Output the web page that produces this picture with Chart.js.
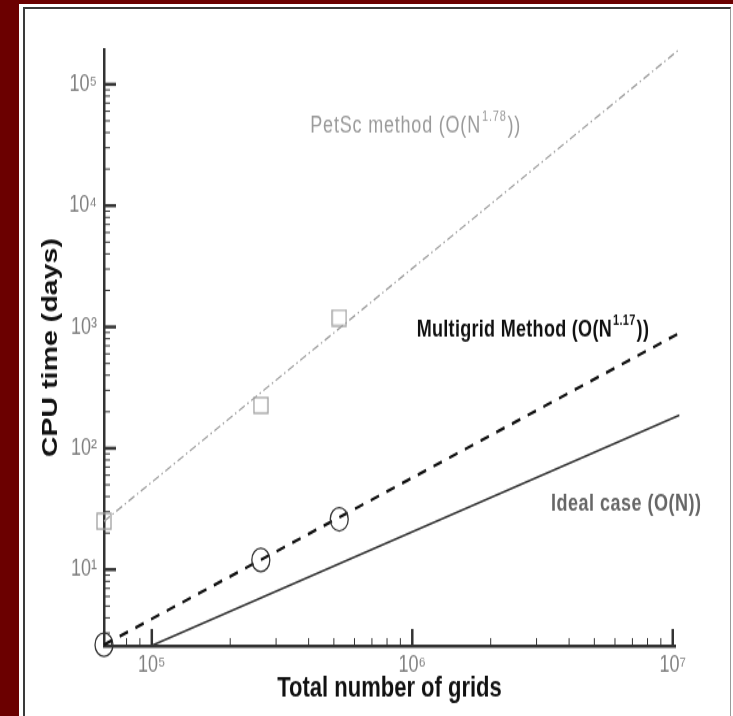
<!DOCTYPE html>
<html>
<head>
<meta charset="utf-8">
<script src="https://cdn.jsdelivr.net/npm/chart.js@4.4.0/dist/chart.umd.min.js"></script>
<style>
  html, body { margin: 0; padding: 0; width: 733px; height: 716px; overflow: hidden; background: #6b0000; }
  #panel { position: absolute; left: 19px; top: 4px; width: 714px; height: 712px; background: #fff; }
  #frame { position: absolute; left: 23px; top: 7px; width: 705px; height: 720px;
           border-top: 2px solid #3a3a3a; border-left: 2px solid #3a3a3a; border-right: 1px solid #9a9a9a; }
  /* the source picture is stretched vertically, so the chart is drawn short and scaled up */
  #wrap { position: absolute; left: 0; top: 0; width: 733px; height: 551px;
          transform-origin: 0 0; transform: scaleY(1.2995); }
</style>
</head>
<body>
<div id="panel"></div>
<div id="frame"></div>
<div id="wrap"><canvas id="cpuChart" width="733" height="551"></canvas></div>
<script>
// measured runs (grid size -> days)
const gridSizes = [65536, 262144, 524288];
const multigridDays = [2.4, 12, 26];
const petscDays = [25, 226, 1190];

// fitted trend lines (end points)
const idealX = [1e5, 1.06e7];
const idealDays = [2.36, 187];
const multigridFitX = [65536, 1.06e7];
const multigridFitDays = [2.4, 890];
const petscFitX = [65536, 1.06e7];
const petscFitDays = [25, 1.94e5];

// axes
const xRange = [65536, 1.02e7];
const yRange = [2.35, 1.94e5];
const xDecades = [1e4, 1e5, 1e6, 1e7];
const yDecades = [1, 1e1, 1e2, 1e3, 1e4, 1e5];
const xTickLabels = { 5: '10⁵', 6: '10⁶', 7: '10⁷' };
const yTickLabels = { 1: '10¹', 2: '10²', 3: '10³', 4: '10⁴', 5: '10⁵' };

// curve labels
const labelTexts = ['PetSc method (O(N', 'Multigrid Method (O(N', 'Ideal case (O(N))'];
const labelExponents = ['1.78', '1.17', ''];
const labelTails = ['))', '))', ''];
const labelAtX = [4.06e5, 1.04e6, 3.41e6];
const labelAtY = [4.5e4, 945, 34.4];

const family = '"Liberation Sans", Arial, Helvetica, sans-serif';
const labelStyles = [
  { color: '#9a9a9a', weight: 'normal', size: 18, spacing: '0.8px' },
  { color: '#111111', weight: 'bold', size: 18, spacing: '0.3px' },
  { color: '#666666', weight: 'bold', size: 18, spacing: '0.5px' }
];

Chart.defaults.font.family = family;

function isDecade(v) {
  const e = Math.log10(v);
  return Math.abs(e - Math.round(e)) < 1e-9;
}

function tickValues(decades, range) {
  const out = [];
  decades.forEach(d => {
    for (let m = 1; m <= 9; m++) {
      const v = m * d;
      if (v >= range[0] && v <= range[1]) out.push({ value: v });
    }
  });
  return out;
}

function points(xs, ys) {
  return xs.map((x, i) => ({ x: x, y: ys[i] }));
}

// open grey square marker
const squareMark = document.createElement('canvas');
squareMark.width = 16;
squareMark.height = 14;
const sq = squareMark.getContext('2d');
sq.strokeStyle = '#a0a0a0';
sq.lineWidth = 1.3;
sq.strokeRect(1, 1, 14, 12);

// ticks point into the plot, long at decades
const inwardTicks = {
  id: 'inwardTicks',
  beforeDatasetsDraw(chart) {
    const { ctx, chartArea: a, scales: { x, y } } = chart;
    ctx.save();
    ctx.strokeStyle = '#333';
    x.ticks.forEach(t => {
      const px = x.getPixelForValue(t.value);
      const major = isDecade(t.value);
      ctx.lineWidth = major ? 2.5 : 1;
      ctx.beginPath();
      ctx.moveTo(px, a.bottom);
      ctx.lineTo(px, a.bottom - (major ? 13 : 6));
      ctx.stroke();
    });
    y.ticks.forEach(t => {
      const py = y.getPixelForValue(t.value);
      const major = isDecade(t.value);
      ctx.lineWidth = major ? 2.5 : 1;
      ctx.beginPath();
      ctx.moveTo(a.left, py);
      ctx.lineTo(a.left + (major ? 12 : 6), py);
      ctx.stroke();
    });
    ctx.restore();
  }
};

const curveLabels = {
  id: 'curveLabels',
  afterDatasetsDraw(chart) {
    const { ctx, scales: { x, y } } = chart;
    ctx.save();
    ctx.textBaseline = 'middle';
    ctx.textAlign = 'left';
    labelTexts.forEach((text, i) => {
      const st = labelStyles[i];
      let px = x.getPixelForValue(labelAtX[i]);
      const py = y.getPixelForValue(labelAtY[i]);
      ctx.fillStyle = st.color;
      ctx.letterSpacing = st.spacing;
      ctx.font = `${st.weight} ${st.size}px ${family}`;
      ctx.fillText(text, px, py);
      px += ctx.measureText(text).width;
      if (labelExponents[i]) {
        ctx.font = `${st.weight} ${Math.round(st.size * 0.6)}px ${family}`;
        ctx.fillText(labelExponents[i], px + 1, py - st.size * 0.38);
        px += ctx.measureText(labelExponents[i]).width + 2;
        ctx.font = `${st.weight} ${st.size}px ${family}`;
        ctx.fillText(labelTails[i], px, py);
      }
    });
    ctx.restore();
  }
};

new Chart(document.getElementById('cpuChart'), {
  type: 'scatter',
  data: {
    datasets: [
      {
        data: points(gridSizes, multigridDays),
        pointStyle: 'circle', pointRadius: 9, pointBorderWidth: 1.3,
        pointBorderColor: '#333', pointBackgroundColor: 'rgba(0,0,0,0)',
        showLine: false, clip: false
      },
      {
        data: points(gridSizes, petscDays),
        pointStyle: squareMark, pointRadius: 7,
        showLine: false, clip: false
      },
      {
        data: points(multigridFitX, multigridFitDays),
        showLine: true, borderColor: '#111', borderWidth: 2.3, borderDash: [9, 8],
        pointRadius: 0, clip: false
      },
      {
        data: points(petscFitX, petscFitDays),
        showLine: true, borderColor: '#a0a0a0', borderWidth: 1.3, borderDash: [7, 3, 1.5, 3],
        pointRadius: 0, clip: false
      },
      {
        data: points(idealX, idealDays),
        showLine: true, borderColor: '#333', borderWidth: 1.6,
        pointRadius: 0, clip: false
      }
    ]
  },
  options: {
    responsive: false,
    animation: false,
    layout: { padding: { left: 0, top: 38, right: 58, bottom: 0 } },
    plugins: { legend: { display: false }, tooltip: { enabled: false } },
    scales: {
      x: {
        type: 'logarithmic',
        min: xRange[0], max: xRange[1],
        afterFit: s => { s.height = 54; },
        afterBuildTicks: s => { s.ticks = tickValues(xDecades, xRange); },
        grid: { display: true, drawOnChartArea: false, drawTicks: false },
        border: { display: true, color: '#333', width: 2.5 },
        ticks: {
          autoSkip: false, maxRotation: 0, padding: 4, color: '#808080',
          font: { size: 18 },
          callback: v => isDecade(v) ? (xTickLabels[Math.round(Math.log10(v))] || '') : ''
        },
        title: {
          display: true, text: 'Total number of grids', color: '#111',
          font: { size: 22, weight: 'bold' }, padding: { top: 0, bottom: 8 }
        }
      },
      y: {
        type: 'logarithmic',
        min: yRange[0], max: yRange[1],
        afterFit: s => { s.width = 104; },
        afterBuildTicks: s => { s.ticks = tickValues(yDecades, yRange); },
        grid: { display: true, drawOnChartArea: false, drawTicks: false },
        border: { display: true, color: '#333', width: 2.5 },
        ticks: {
          autoSkip: false, padding: 7, color: '#808080',
          font: { size: 18 },
          callback: v => isDecade(v) ? (yTickLabels[Math.round(Math.log10(v))] || '') : ''
        },
        title: {
          display: true, text: 'CPU time (days)', color: '#111',
          font: { size: 22, weight: 'bold' }, padding: { top: 38, bottom: 0 }
        }
      }
    }
  },
  plugins: [inwardTicks, curveLabels]
});
</script>
</body>
</html>
